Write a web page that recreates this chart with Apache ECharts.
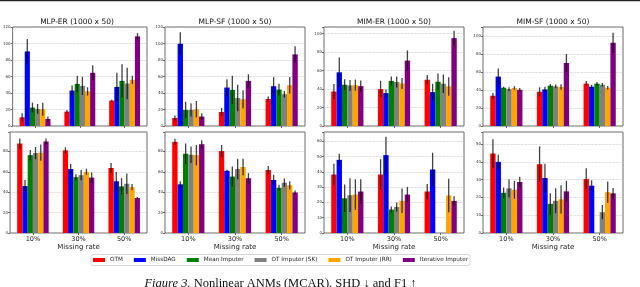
<!DOCTYPE html>
<html><head><meta charset="utf-8">
<script src="https://cdn.jsdelivr.net/npm/echarts@6/dist/echarts.min.js"></script>
<style>html,body{margin:0;padding:0;background:#fff}#c{width:640px;height:287px}</style>
</head><body><div id="c"></div>
<script>
const categories = ['10%', '30%', '50%'];
const methods = ['OTM', 'MissDAG', 'Mean Imputer', 'OT Imputer (SK)', 'OT Imputer (RR)', 'Iterative Imputer'];
const panelTitles = ['MLP-ER (1000 x 50)', 'MLP-SF (1000 x 50)', 'MIM-ER (1000 x 50)', 'MIM-SF (1000 x 50)'];
const xAxisTitle = 'Missing rate';
const caption = 'Nonlinear ANMs (MCAR). SHD \u2193 and F1 \u2191';

// rows: methods, cols: missing rate 10/30/50
const mlpErShd    = [[10.5,17.4,30.8],[90.4,43,47.4],[22.3,51,54.7],[20.7,48.6,51.5],[20.3,42,56],[8.5,64.5,108.6]];
const mlpErShdErr = [[5,2,1],[15,6,17],[6,10,20],[6,11,19],[8,5,5],[3,9,4]];
const mlpSfShd    = [[9.7,17,32.8],[99.7,46.6,48.2],[19.5,43.8,44.2],[19.5,34,38.5],[20.3,32.4,49.5],[11.4,54.7,86.8]];
const mlpSfShdErr = [[3,5,3],[14,10,11],[10,17,7],[8,16,4],[10,11,10],[4,8,10]];
const mimErShd    = [[37.3,39.9,50],[58,35.5,36.6],[44.6,48.6,47.8],[43.8,47.5,45.7],[44.2,46,42.8],[43.1,70.7,95]];
const mimErShdErr = [[8,9,5],[16,4,9],[6,5,9],[6,6,10],[6,6,10],[6,11,8]];
const mimSfShd    = [[33.6,38,47],[54.9,40.7,43.7],[42.5,44.8,47],[41,44,45.9],[42.2,43.3,42.5],[40.3,70,92.5]];
const mimSfShdErr = [[3,5,3],[9,3,2],[1,2,2],[2,2,2],[2,3,2],[2,10,11]];
const mlpErF1     = [[87.7,81,63.7],[46,62.7,50.7],[76.3,54.7,45.7],[78.3,56.7,48.3],[78.7,60,45],[89.7,54.3,34.3]];
const mlpErF1Err  = [[5,3,5],[6,5,9],[5,3,8],[6,5,10],[8,3,3],[3,5,1]];
const mlpSfF1     = [[89.3,80.3,61.7],[47.7,61,52],[77.7,55.3,44.3],[76.7,62.7,49.3],[76.3,64.7,46.7],[87,53.7,39.7]];
const mlpSfF1Err  = [[3,6,4],[3,1,5],[10,10,3],[8,10,4],[10,8,4],[4,5,2]];
const mimErF1     = [[38.2,38.2,27.1],[47.8,50.9,41.5],[22.7,15.3,0],[24.7,17,0],[25.1,21,24.5],[27.1,25.1,21]];
const mimErF1Err  = [[7,10,5],[4,12,11],[9,2,0],[11,3,0],[10,8,11],[8,5,3]];
const mimSfF1     = [[44.7,38.7,30.4],[40,30.9,26.6],[22.6,16.4,0],[25.1,18.1,11.7],[24.3,18.9,23],[28.7,23.4,22.3]];
const mimSfF1Err  = [[8,10,6],[4,8,3],[3,6,0],[5,7,4],[5,8,6],[3,6,3]];
const yMax      = [120, 120, 107, 110, 99, 99, 66, 56.8];
const yInterval = [20, 20, 20, 20, 20, 20, 10, 10];

const panelMeans = [mlpErShd, mlpSfShd, mimErShd, mimSfShd, mlpErF1, mlpSfF1, mimErF1, mimSfF1];
const panelErrs  = [mlpErShdErr, mlpSfShdErr, mimErShdErr, mimSfShdErr, mlpErF1Err, mlpSfF1Err, mimErF1Err, mimSfF1Err];

const colors = ['#ff0000', '#0000ff', '#008000', '#808080', '#ffa500', '#800080'];
const lefts = [7, 165, 324, 483];
const PW = 140;
const BAR_FRAC = 0.115;

const grids = [], xAxes = [], yAxes = [], series = [];
for (let p = 0; p < 8; p++) {
  const row = Math.floor(p / 4), col = p % 4;
  grids.push({left: lefts[col], width: PW, top: row ? 132 : 27, height: row ? 101 : 99,
    show: true, borderColor: '#444', borderWidth: 0.8, backgroundColor: 'transparent', containLabel: false});
  xAxes.push({type: 'category', gridIndex: p, data: categories,
    axisLine: {show: false},
    axisTick: {show: true, alignWithLabel: true, length: 2, lineStyle: {color: '#444', width: 0.8}},
    axisLabel: {show: row === 1, fontSize: 6.5, color: '#222', margin: 3, fontFamily: 'DejaVu Sans'},
    name: row === 1 ? xAxisTitle : '', nameLocation: 'middle', nameGap: 10,
    nameTextStyle: {fontSize: 7, color: '#222', fontFamily: 'DejaVu Sans'}});
  const iv = yInterval[p];
  yAxes.push({type: 'value', gridIndex: p, min: 0, max: yMax[p], interval: iv,
    axisLine: {show: false},
    axisTick: {show: true, length: 2, lineStyle: {color: '#444', width: 0.8}},
    axisLabel: {fontSize: 4, color: '#333', margin: 2, fontFamily: 'DejaVu Sans',
      formatter: v => (Math.abs(v / iv - Math.round(v / iv)) < 1e-6 ? String(v) : '')},
    splitLine: {show: true, lineStyle: {type: 'dotted', color: '#bbb', width: 0.7}}});
  for (let m = 0; m < 6; m++) {
    series.push({type: 'bar', name: methods[m], xAxisIndex: p, yAxisIndex: p,
      data: panelMeans[p][m], barWidth: (BAR_FRAC * 100) + '%', barGap: '0%',
      itemStyle: {color: colors[m]}, silent: true});
  }
  const ed = [];
  for (let m = 0; m < 6; m++) for (let c = 0; c < 3; c++) ed.push([c, m, panelMeans[p][m][c], panelErrs[p][m][c]]);
  series.push({type: 'custom', name: 'err' + p, xAxisIndex: p, yAxisIndex: p, data: ed, z: 5,
    encode: {x: 0, y: 2}, clip: false,
    renderItem: (params, api) => {
      const cat = api.value(0), m = api.value(1), v = api.value(2), e = api.value(3);
      if (!e) return;
      const band = api.size([1, 0])[0];
      const w = band * BAR_FRAC;
      const c0 = api.coord([cat, v]);
      const x = c0[0] + (m - 2.5) * w;
      const y1 = api.coord([cat, v - e])[1], y2 = api.coord([cat, v + e])[1];
      return {type: 'line', shape: {x1: x, y1: y1, x2: x, y2: y2},
        style: {stroke: 'rgba(0,0,0,0.75)', lineWidth: 1.3}};
    }});
}

const graphics = [{type: 'rect', shape: {x: 0, y: 0, width: 640, height: 1.3}, style: {fill: '#222'}}];
for (let i = 0; i < 4; i++) {
  graphics.push({type: 'text', x: lefts[i] + PW / 2, y: 22,
    style: {text: panelTitles[i], fontSize: 7.5, fill: '#111', fontFamily: 'DejaVu Sans',
      textAlign: 'center', textVerticalAlign: 'middle'}});
}
graphics.push({type: 'text', x: 280.5, y: 283.5,
  style: {text: '{i|Figure 3.} ' + caption, textAlign: 'center', textVerticalAlign: 'middle',
    fontSize: 12.5, fontFamily: 'Liberation Serif', fill: '#111',
    rich: {i: {fontStyle: 'italic', fontSize: 12.5, fontFamily: 'Liberation Serif', fill: '#111'}}}});

const chart = echarts.init(document.getElementById('c'), null, {renderer: 'canvas'});
chart.setOption({
  animation: false,
  backgroundColor: '#fff',
  grid: grids, xAxis: xAxes, yAxis: yAxes, series: series,
  legend: {data: methods, left: 91, top: 254.5, orient: 'horizontal',
    itemWidth: 12, itemHeight: 4, itemGap: 11, icon: 'rect',
    padding: [2.5, 2, 2.5, 2], backgroundColor: '#fff', borderColor: '#ccc', borderWidth: 0.8, borderRadius: 2,
    textStyle: {fontSize: 5.7, color: '#222', fontFamily: 'DejaVu Sans'}, selectedMode: false},
  graphic: graphics
});
</script></body></html>
